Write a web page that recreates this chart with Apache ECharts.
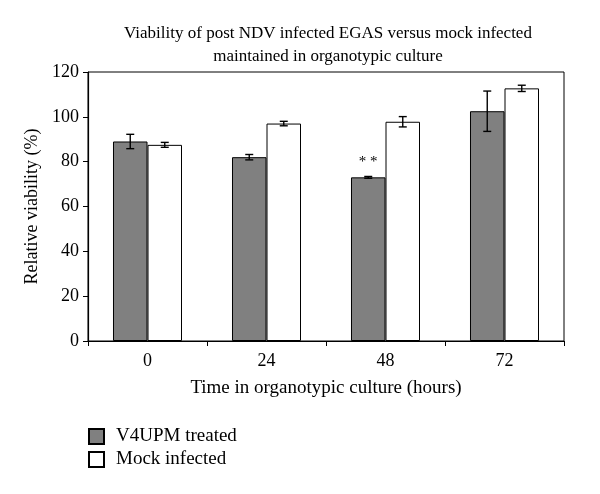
<!DOCTYPE html>
<html>
<head>
<meta charset="utf-8">
<script src="https://cdn.jsdelivr.net/npm/echarts@6/dist/echarts.min.js"></script>
<style>html,body{margin:0;padding:0;background:#fff}#c{width:600px;height:494px}</style>
</head>
<body>
<div id="c"></div>
<script>
const categories = ['0', '24', '48', '72'];
const seriesNames = ['V4UPM treated', 'Mock infected'];
const treated = [89, 82, 73, 102.5];
const treatedErr = [3.2, 1.2, 0.4, 9];
const mock = [87.5, 97, 97.8, 112.7];
const mockErr = [1.1, 1, 2.3, 1.4];
const treatedMarks = ['', '', '**', ''];
const yTicks = [0, 20, 40, 60, 80, 100, 120];

const FONT = 'Liberation Serif';
const GAP = 0.42;

function errRenderer(sign, errs) {
  return function (params, api) {
    const i = api.value(0);
    const v = api.value(1);
    const e = errs[params.dataIndex];
    const band = api.size([1, 0])[0];
    const bw = band * (1 - GAP) / 2;
    const c = api.coord([i, v]);
    const x = c[0] + sign * bw / 2;
    const top = api.coord([i, v + e])[1];
    const bot = api.coord([i, v - e])[1];
    const cap = 4;
    const st = { stroke: '#000', lineWidth: 1.4 };
    return {
      type: 'group',
      children: [
        { type: 'line', shape: { x1: x, y1: top, x2: x, y2: bot }, style: st },
        { type: 'line', shape: { x1: x - cap, y1: top, x2: x + cap, y2: top }, style: st },
        { type: 'line', shape: { x1: x - cap, y1: bot, x2: x + cap, y2: bot }, style: st }
      ]
    };
  };
}

const chart = echarts.init(document.getElementById('c'), null, { renderer: 'canvas' });
chart.setOption({
  animation: false,
  backgroundColor: '#fff',
  textStyle: { fontFamily: FONT, color: '#000' },
  title: {
    text: 'Viability of post NDV infected EGAS versus mock infected\nmaintained in organotypic culture',
    left: 323, textAlign: 'center', top: 17,
    textStyle: { fontFamily: FONT, fontSize: 17, fontWeight: 'normal', color: '#000', lineHeight: 23 }
  },
  legend: {
    orient: 'vertical', left: 83, top: 422,
    itemWidth: 15, itemHeight: 15, itemGap: 4,
    icon: 'rect',
    textStyle: { fontFamily: FONT, fontSize: 19, color: '#000', padding: [0, 0, 0, 7] },
    data: seriesNames
  },
  grid: {
    left: 88, right: 36, top: 72, bottom: 153,
    show: true, borderColor: '#000', borderWidth: 1, backgroundColor: 'transparent'
  },
  xAxis: {
    type: 'category', data: categories,
    name: 'Time in organotypic culture (hours)', nameLocation: 'middle', nameGap: 38,
    nameTextStyle: { fontFamily: FONT, fontSize: 19, color: '#000' },
    axisLine: { lineStyle: { color: '#000', width: 1.2 } },
    axisTick: { show: true, alignWithLabel: false, length: 5, lineStyle: { color: '#000' } },
    axisLabel: { fontFamily: FONT, fontSize: 18, color: '#000', margin: 11 }
  },
  yAxis: {
    type: 'value', min: 0, max: 120, interval: 20,
    name: 'Relative viability (%)', nameLocation: 'middle', nameGap: 46,
    nameTextStyle: { fontFamily: FONT, fontSize: 18, color: '#000' },
    axisLine: { show: true, lineStyle: { color: '#000', width: 1.2 } },
    axisTick: { show: true, length: 5, lineStyle: { color: '#000' } },
    splitLine: { show: false },
    axisLabel: {
      fontFamily: FONT, fontSize: 18, color: '#000', margin: 9,
      formatter: function (v) { return yTicks.indexOf(v) >= 0 ? String(v) : ''; }
    }
  },
  series: [
    {
      name: seriesNames[0], type: 'bar', barGap: '0%', barCategoryGap: (GAP * 100) + '%',
      itemStyle: { color: '#808080', borderColor: '#000', borderWidth: 1 },
      data: treated.map(function (v, i) {
        return {
          value: v,
          label: {
            show: !!treatedMarks[i], position: 'top', distance: 8,
            formatter: treatedMarks[i] ? treatedMarks[i].split('').join(' ') : '',
            fontFamily: FONT, fontSize: 15, color: '#000'
          }
        };
      })
    },
    {
      name: seriesNames[1], type: 'bar', barGap: '0%', barCategoryGap: (GAP * 100) + '%',
      itemStyle: { color: '#fff', borderColor: '#000', borderWidth: 1 },
      data: mock
    },
    {
      type: 'custom', renderItem: errRenderer(-1, treatedErr), z: 10,
      data: treated.map(function (v, i) { return [i, v]; }),
      encode: { x: 0, y: 1 }, silent: true
    },
    {
      type: 'custom', renderItem: errRenderer(1, mockErr), z: 10,
      data: mock.map(function (v, i) { return [i, v]; }),
      encode: { x: 0, y: 1 }, silent: true
    }
  ]
});
</script>
</body>
</html>
